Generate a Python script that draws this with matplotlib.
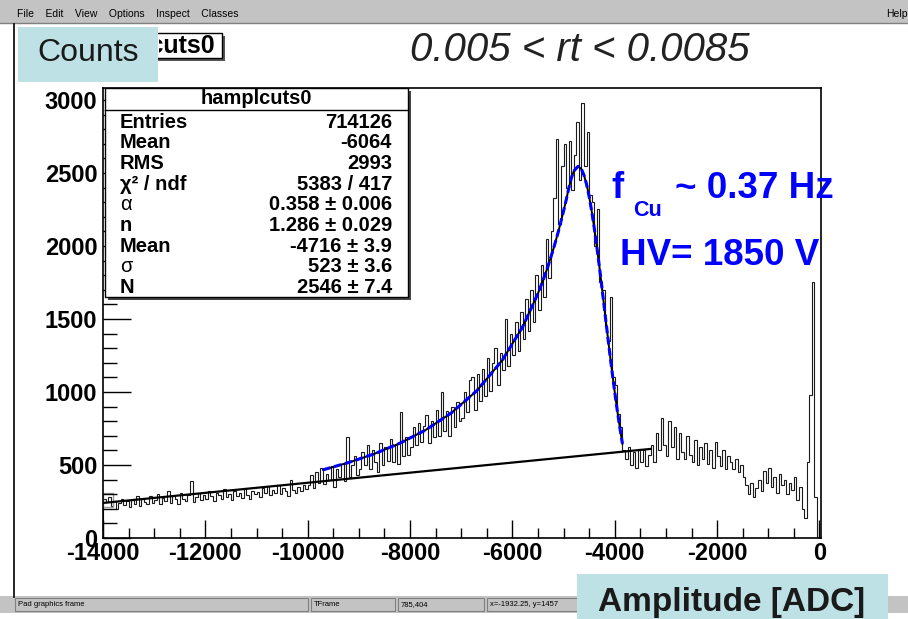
import matplotlib.pyplot as plt
import numpy as np
from matplotlib.patches import Rectangle
from matplotlib.transforms import Bbox
from matplotlib.ticker import MultipleLocator

plt.rcParams['font.family'] = ['Liberation Sans', 'DejaVu Sans']
plt.rcParams['axes.unicode_minus'] = False

# histogram contents, 50 ADC bins from -14000 to 0
counts = [
    270, 245, 280, 220, 255, 200, 240, 265, 225, 250, 210, 260, 235, 290, 220, 270, 245, 230, 285, 240,
    260, 300, 235, 275, 250, 320, 240, 290, 265, 230, 305, 270, 250, 295, 390, 245, 280, 310, 260, 295,
    270, 320, 285, 250, 310, 295, 265, 335, 280, 300, 260, 325, 290, 310, 275, 340, 295, 270, 320, 300,
    315, 280, 340, 305, 355, 295, 330, 310, 360, 300, 345, 320, 290, 395, 330, 305, 350, 325, 365, 335,
    360, 430, 340, 450, 380, 480, 370, 440, 400, 490, 350, 470, 420, 510, 390, 690, 420, 500, 560, 430,
    470, 590, 500, 640, 470, 600, 520, 450, 650, 500, 620, 530, 680, 520, 640, 510, 860, 560, 690, 570,
    620, 760, 640, 790, 660, 770, 840, 650, 800, 690, 880, 700, 1000, 730, 870, 700, 900, 760, 930, 800,
    820, 1000, 860, 1080, 1100, 880, 1120, 940, 1160, 970, 1230, 1010, 1200, 1300, 1050, 1270, 1150, 1500, 1180, 1400,
    1250, 1480, 1280, 1550, 1360, 1640, 1420, 1700, 1480, 1800, 1560, 1870, 1650, 2050, 1780, 2100, 2330, 2730, 2150, 2550,
    2700, 2400, 2720, 2380, 2620, 2850, 2450, 2980, 2550, 2780, 2350, 2300, 2000, 2250, 1750, 1700, 1450, 1350, 1650, 1100,
    1050, 850, 760, 600, 540, 620, 500, 590, 480, 610, 520, 600, 490, 570, 640, 520, 720, 600, 820, 640,
    560, 800, 620, 760, 540, 720, 590, 540, 700, 570, 520, 670, 500, 620, 540, 650, 510, 600, 480, 660,
    560, 490, 600, 470, 560, 520, 470, 540, 450, 500, 420, 360, 300, 380, 280, 340, 400, 320, 460, 380,
    480, 350, 420, 310, 440, 360, 400, 300, 380, 330, 420, 260, 350, 200, 140, 520, 980, 1750, 280, 0,
]
edges = np.linspace(-14000, 0, len(counts) + 1)

# fitted crystal-ball curve (blue) and linear background (black)
fit_x = [-9700, -9200, -8700, -8200, -7700, -7200, -6700, -6200, -5800, -5500, -5400, -5300,
         -5200, -5100, -5000, -4950, -4900, -4850, -4800, -4716, -4650, -4600, -4550, -4500,
         -4450, -4400, -4350, -4300, -4250, -4200, -4150, -4100, -4050, -4000, -3950, -3900, -3850]
fit_y = [467, 517, 576, 649, 739, 855, 1007, 1216, 1446, 1675, 1766, 1866,
         1978, 2101, 2240, 2314, 2393, 2464, 2513, 2546, 2526, 2484, 2421, 2338,
         2237, 2121, 1993, 1857, 1712, 1564, 1417, 1272, 1131, 998, 871, 754, 646]
bg_x = [-14000, -3300]
bg_y = [240, 610]

stat_labels = ['Entries', 'Mean', 'RMS', 'χ² / ndf', 'α', 'n', 'Mean', 'σ', 'N']
stat_values = ['714126', '-6064', '2993', '5383 / 417', '0.358 ± 0.006', '1.286 ± 0.029',
               '-4716 ± 3.9', '523 ± 3.6', '2546 ± 7.4']

W, H = 908, 619
fig = plt.figure(figsize=(W / 100, H / 100), dpi=100)
fig.patch.set_facecolor('white')


def fx(x):
    return x / W


def fy(y):
    return 1 - y / H


def box(x0, y0, x1, y1, **kw):
    r = Rectangle((fx(x0), fy(y1)), (x1 - x0) / W, (y1 - y0) / H,
                  transform=fig.transFigure, **kw)
    fig.add_artist(r)
    return r


def label(x, y, s, **kw):
    return fig.text(fx(x), fy(y), s, **kw)


# window chrome: menu bar, canvas border, status bar
box(0, 0, W, 23, facecolor='#c3c3c3', edgecolor='none', zorder=1)
fig.add_artist(plt.Line2D([0, 1], [fy(23), fy(23)], transform=fig.transFigure, color='#808080', lw=1))
label(17, 14, 'File    Edit    View    Options    Inspect    Classes', fontsize=7.5, va='center')
label(886, 14, 'Help', fontsize=7.5, va='center')
fig.add_artist(plt.Line2D([fx(14), fx(14)], [fy(24), fy(597)], transform=fig.transFigure, color='black', lw=1.2))
box(0, 596, W, 613, facecolor='#c3c3c3', edgecolor='none', zorder=1)
for x0, x1, s in [(15, 308, 'Pad graphics frame'), (311, 395, 'TFrame'),
                  (398, 484, '785,404'), (487, 600, 'x=-1932.25, y=1457')]:
    box(x0, 598, x1, 611, facecolor='#c3c3c3', edgecolor='#808080', lw=0.8, zorder=1)
    label(x0 + 3, 605, s, fontsize=5.5, va='center', zorder=2)

# main frame
ax = fig.add_axes([fx(103), fy(538), (821 - 103) / W, (538 - 88) / H])
ax.stairs(counts, edges, color='#1a1a1a', lw=0.8)
ax.plot(bg_x, bg_y, color='black', lw=1.6)
ax.plot(fit_x, fit_y, color='black', lw=1.4)
ax.plot(fit_x, fit_y, color='#0000ff', lw=2.2, ls=(0, (2.5, 1.2)))
ax.set_xlim(-14000, 30)
ax.set_ylim(0, 3082)
ax.set_xticks(np.arange(-14000, 1, 2000))
ax.xaxis.set_minor_locator(MultipleLocator(500))
ax.yaxis.set_major_locator(MultipleLocator(500))
ax.yaxis.set_minor_locator(MultipleLocator(100))
ax.tick_params(axis='x', which='major', direction='in', length=13, width=1, pad=3)
ax.tick_params(axis='x', which='minor', direction='in', length=7, width=1)
ax.tick_params(axis='y', which='major', direction='in', length=20, width=1, pad=4)
ax.tick_params(axis='y', which='minor', direction='in', length=10, width=1)
for t in ax.get_xticklabels() + ax.get_yticklabels():
    t.set_fontsize(17)
    t.set_fontweight('bold')
for s in ax.spines.values():
    s.set_linewidth(1.2)
ax.add_patch(Rectangle((-14000, 215), 200, 95, fill=False, edgecolor='#999999', lw=1))

# title box partly hidden behind "Counts"
box(95, 36, 225, 61, facecolor='#555555', edgecolor='none', zorder=2)
box(92, 33, 222, 58, facecolor='white', edgecolor='black', lw=1, zorder=2)
ttl = label(215, 46, 'hamplcuts0', fontsize=18, fontweight='bold', ha='right', va='center', zorder=3)
ttl.set_clip_box(Bbox.from_extents(159, H - 58, 222, H - 33))
ttl.set_clip_on(True)

label(580, 50, '0.005 < rt < 0.0085', fontsize=29, style='italic', ha='center', va='center', color='#222222')

# stats box
box(108, 91, 411, 300, facecolor='#444444', edgecolor='none', zorder=2)
box(105, 88, 408, 297, facecolor='white', edgecolor='black', lw=1, zorder=2)
fig.add_artist(plt.Line2D([fx(105), fx(408)], [fy(110), fy(110)], transform=fig.transFigure,
                          color='black', lw=1, zorder=3))
label(256, 99, 'hamplcuts0', fontsize=14.5, fontweight='bold', ha='center', va='center', zorder=3)
for i, (name, val) in enumerate(zip(stat_labels, stat_values)):
    y = 122 + i * 20.7
    w = 'normal' if name in ('α', 'σ') else 'bold'
    label(120, y, name, fontsize=14.5, fontweight=w, va='center', zorder=3)
    label(392, y, val, fontsize=14.5, fontweight='bold', ha='right', va='center', zorder=3)

# annotations
blue = '#0000ff'
label(611, 188, 'f', fontsize=26.5, fontweight='bold', color=blue, va='center')
label(633, 210, 'Cu', fontsize=15.5, fontweight='bold', color=blue, va='center')
label(675, 188, '~ 0.37 Hz', fontsize=26.5, fontweight='bold', color=blue, va='center')
label(620, 255, 'HV= 1850 V', fontsize=26.5, fontweight='bold', color=blue, va='center')

# axis captions in light-blue boxes
box(18, 27, 158, 82, facecolor='#bde1e5', edgecolor='none', zorder=4)
label(88, 53, 'Counts', fontsize=23, ha='center', va='center', color='#1a1a1a', zorder=5)
box(577, 574, 888, 619, facecolor='#bde1e5', edgecolor='none', zorder=4)
label(732, 603, 'Amplitude [ADC]', fontsize=24, fontweight='bold', ha='center', va='center',
      color='#1a1a1a', zorder=5)

fig.savefig('out.png', dpi=100)
